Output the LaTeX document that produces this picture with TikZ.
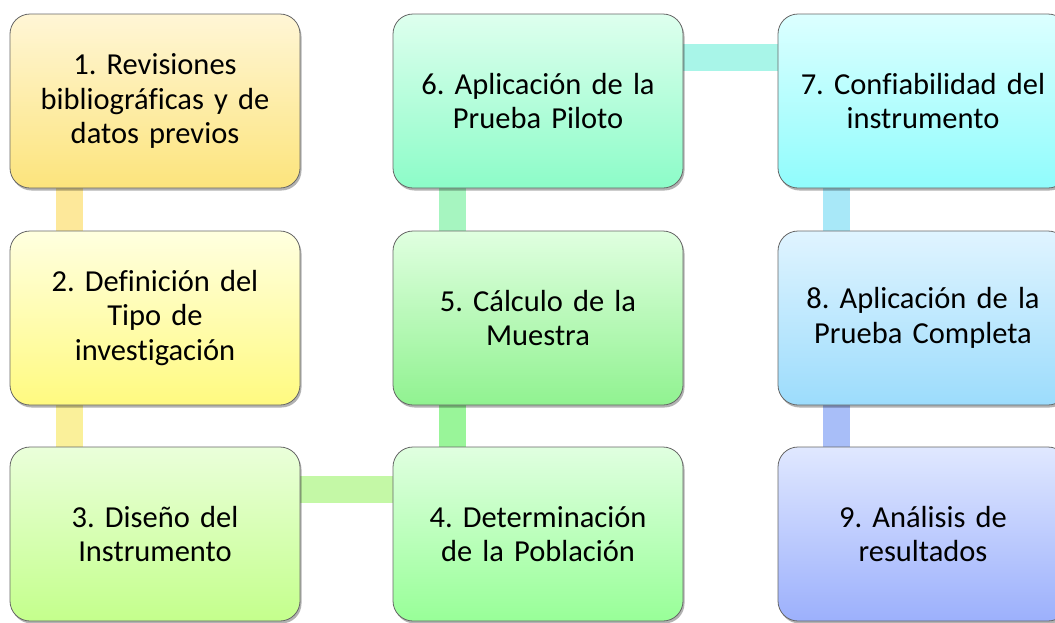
\documentclass[tikz,border=0pt]{standalone}
\usepackage{fontspec}
\setmainfont{Carlito}[Ligatures=NoCommon]
\usepackage{tikz}
\usetikzlibrary{positioning,shadows,backgrounds}
\frenchspacing
\definecolor{onetop}{RGB}{255, 246, 214}
\definecolor{onebot}{RGB}{252, 228, 124}
\definecolor{twotop}{RGB}{255, 255, 224}
\definecolor{twobot}{RGB}{255, 250, 128}
\definecolor{threetop}{RGB}{234, 255, 218}
\definecolor{threebot}{RGB}{196, 255, 140}
\definecolor{fourtop}{RGB}{224, 255, 224}
\definecolor{fourbot}{RGB}{152, 255, 152}
\definecolor{sixtop}{RGB}{222, 255, 238}
\definecolor{sixbot}{RGB}{140, 252, 200}
\definecolor{seventop}{RGB}{220, 255, 255}
\definecolor{sevenbot}{RGB}{144, 252, 252}
\definecolor{eighttop}{RGB}{224, 244, 255}
\definecolor{eightbot}{RGB}{156, 220, 252}
\definecolor{ninetop}{RGB}{224, 232, 255}
\definecolor{ninebot}{RGB}{156, 176, 252}
\definecolor{barone}{RGB}{253, 232, 154}
\definecolor{bartwo}{RGB}{250, 240, 154}
\definecolor{barthree}{RGB}{196, 248, 166}
\definecolor{barfour}{RGB}{153, 245, 153}
\definecolor{barfive}{RGB}{166, 245, 192}
\definecolor{barsix}{RGB}{168, 245, 232}
\definecolor{barseven}{RGB}{168, 232, 248}
\definecolor{bareight}{RGB}{168, 190, 248}

\begin{document}
\begin{tikzpicture}[
    x=1pt, y=-1pt,
    stage/.style={draw=black!60, line width=0.8pt, rounded corners=20pt, minimum width=290pt, minimum height=174pt, text width=276pt, align=center, font=\fontsize{30.5}{34.5}\selectfont, drop shadow={shadow xshift=1.5pt, shadow yshift=-2.5pt, opacity=0.3, fill=black}},
    bar/.style={line width=27pt}
]
    \useasboundingbox (0, 0) rectangle (1055, 622);

    % Column 1
    \node[stage, top color=onetop, bottom color=onebot] (rev) at (155, 101) {1. Revisiones\\bibliográficas y de\\datos previos};
    \node[stage, top color=twotop, bottom color=twobot] (tipo) at (155, 318) {2. Definición del\\Tipo de\\investigación};
    \node[stage, top color=threetop, bottom color=threebot] (diseno) at (155, 534) {3. Diseño del\\Instrumento};

    % Column 2
    \node[stage, top color=fourtop, bottom color=fourbot] (pobl) at (538, 534) {4. Determinación\\de la Población};
    \node[stage, top color=fourtop, bottom color=fourbot!95!black] (muestra) at (538, 318) {5. Cálculo de la\\Muestra};
    \node[stage, top color=sixtop, bottom color=sixbot] (piloto) at (538, 101) {6. Aplicación de la\\Prueba Piloto};

    % Column 3
    \node[stage, top color=seventop, bottom color=sevenbot] (conf) at (923, 101) {7. Confiabilidad del\\instrumento};
    \node[stage, top color=eighttop, bottom color=eightbot] (completa) at (923, 318) {8. Aplicación de la\\Prueba Completa};
    \node[stage, top color=ninetop, bottom color=ninebot] (analisis) at (923, 534) {9. Análisis de\\resultados};

    % Connecting bars behind the boxes
    \begin{scope}[on background layer]
        \draw[bar, barone] ([xshift=59.5pt]rev.south west) -- ([xshift=59.5pt]tipo.north west);
        \draw[bar, bartwo] ([xshift=59.5pt]tipo.south west) -- ([xshift=59.5pt]diseno.north west);
        \draw[bar, barthree] ([yshift=-43pt]diseno.north east) -- ([yshift=-43pt]pobl.north west);
        \draw[bar, barfour] ([xshift=59.5pt]pobl.north west) -- ([xshift=59.5pt]muestra.south west);
        \draw[bar, barfive] ([xshift=59.5pt]muestra.north west) -- ([xshift=59.5pt]piloto.south west);
        \draw[bar, barsix] ([yshift=-44pt]piloto.north east) -- ([yshift=-44pt]conf.north west);
        \draw[bar, barseven] ([xshift=58.5pt]conf.south west) -- ([xshift=58.5pt]completa.north west);
        \draw[bar, bareight] ([xshift=58.5pt]completa.south west) -- ([xshift=58.5pt]analisis.north west);
    \end{scope}

\end{tikzpicture}
\end{document}
